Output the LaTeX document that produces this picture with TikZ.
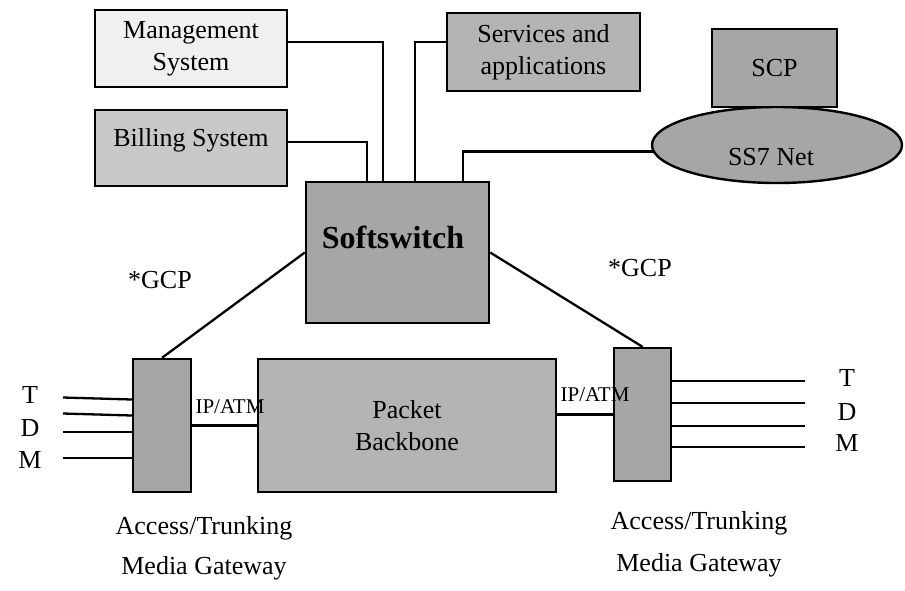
\documentclass[tikz,border=0pt]{standalone}
\usepackage{fontspec}
\setmainfont{Liberation Serif}
\usetikzlibrary{shapes.geometric,positioning}
\definecolor{lightbox}{HTML}{F0F0F0}
\definecolor{billbox}{HTML}{C8C8C8}
\definecolor{svcbox}{HTML}{B4B4B4}
\definecolor{darkbox}{HTML}{A6A6A6}
\newcommand{\lblfont}{\fontsize{26}{32}\selectfont}
\newcommand{\smallfont}{\fontsize{21}{26}\selectfont}
\tikzset{
	unit/.style={draw, line width=2.4pt, inner sep=0pt, align=center, font=\lblfont},
	wire/.style={line width=2.3pt},
	txt/.style={inner sep=0pt, align=center, font=\lblfont}
}

\begin{document}
\begin{tikzpicture}[x=1pt,y=-1pt]

					\useasboundingbox (0,0) rectangle (905,590);

					% management side
					\node[unit, fill=lightbox, minimum width=192, minimum height=77] (mgmt) at (191,48.5) {Management\\System};
					\node[unit, fill=billbox, minimum width=192, minimum height=76] (bill) at (191,148) {};
					\node[txt] (billtxt) at (191,140) {Billing System};
					\node[unit, fill=svcbox, minimum width=193, minimum height=78] (svc) at (543.5,52) {Services and\\applications};

					% signalling
					\node[unit, ellipse, fill=darkbox, minimum width=250, minimum height=76] (ss7) at (777,145) {};
					\node[txt] (ss7txt) at (771,157) {SS7 Net};
					\node[unit, fill=darkbox, minimum width=125, minimum height=78] (scp) at (774.5,68) {SCP};

					% softswitch
					\node[unit, fill=darkbox, minimum width=183, minimum height=141] (soft) at (397.5,252.5) {};
					\node[txt, font=\fontsize{32}{38}\selectfont\bfseries] (softtxt) at (393,237) {Softswitch};

					\draw[wire] ([yshift=6.5]mgmt.east) -| ([xshift=-14.5]soft.north);
					\draw[wire] ([yshift=6]bill.east) -| ([xshift=-30.5]soft.north);
					\draw[wire] ([yshift=10]svc.west) -| ([xshift=17.5]soft.north);
					\draw[wire] (ss7.183) -| ([xshift=65.5]soft.north);

					% gateways and backbone
					\node[unit, fill=darkbox, minimum width=58, minimum height=133] (gwl) at (162,425.5) {};
					\node[unit, fill=svcbox, minimum width=298, minimum height=133] (pb) at (407,425.5) {Packet\\Backbone};
					\node[unit, fill=darkbox, minimum width=57, minimum height=133] (gwr) at (642.5,414.5) {};

					\draw[wire] (soft.west) -- (gwl.north);
					\draw[wire] (soft.east) -- (gwr.north);
					\draw[wire] (gwl) -- (pb);
					\draw[wire] (gwr.west) -- (gwr.west -| pb.east);

					\node[txt, font=\smallfont] (ipl) at (230,407) {IP/ATM};
					\node[txt, font=\smallfont] (ipr) at (595,395) {IP/ATM};
					\node[txt] (gcpl) at (160,280) {*GCP};
					\node[txt] (gcpr) at (640,268) {*GCP};

					% TDM trunks
					\foreach \n/\ya/\yb in {1/397.5/399.5, 2/413.5/415.5, 3/432/432, 4/458/458}{
						\coordinate (tl\n) at (63,\ya);
						\draw[wire] (tl\n) -- (gwl.west |- 0,\yb);
					}
					\foreach \n/\y in {1/381, 2/403, 3/426, 4/447}{
						\coordinate (tr\n) at (805,\y);
						\draw[wire] (gwr.east |- tr\n) -- (tr\n);
					}
					\node[txt] (tlT) at (30,395) {T};
					\node[txt] (tlD) at (30,428) {D};
					\node[txt] (tlM) at (30,460) {M};
					\node[txt] (trT) at (847,378) {T};
					\node[txt] (trD) at (847,412) {D};
					\node[txt] (trM) at (847,443) {M};

					% captions
					\node[txt] (accl) at (204,528) {Access/Trunking};
					\node[txt] (medl) at (204,568) {Media Gateway};
					\node[txt] (accr) at (699,523) {Access/Trunking};
					\node[txt] (medr) at (699,565) {Media Gateway};

\end{tikzpicture}
\end{document}
